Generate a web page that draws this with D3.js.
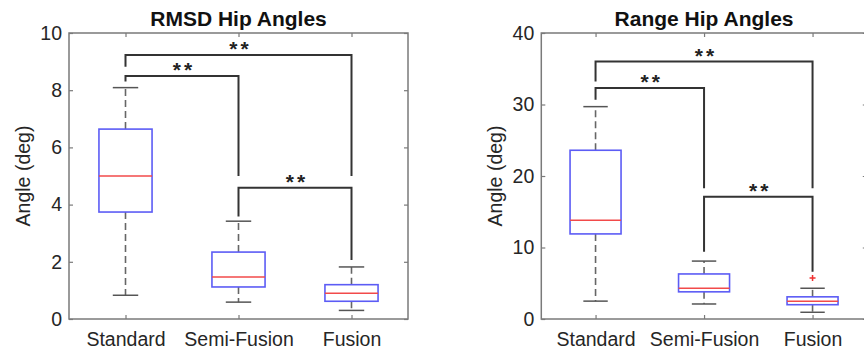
<!DOCTYPE html>
<html>
<head>
<meta charset="utf-8">
<script src="https://cdn.jsdelivr.net/npm/d3@7"></script>
<style>
  body { margin: 0; background: #fff; }
  svg text { font-family: "Liberation Sans", Arial, sans-serif; }
</style>
</head>
<body>
<svg id="chart" width="864" height="354"></svg>
<script>
// categories shared by both panels
const categories = ['Standard', 'Semi-Fusion', 'Fusion'];

// RMSD hip angles (deg)
const rmsdLow = [0.83, 0.59, 0.30];
const rmsdQ1 = [3.74, 1.12, 0.62];
const rmsdMedian = [5.0, 1.47, 0.90];
const rmsdQ3 = [6.64, 2.34, 1.20];
const rmsdHigh = [8.09, 3.42, 1.82];
const rmsdOutliers = [];
const rmsdTicks = [0, 2, 4, 6, 8, 10];
// significance brackets: [from, to, height, left end, right end]
const rmsdBrackets = [
    [0, 1, 8.5, 8.3, 5.0],
    [0, 2, 9.23, 8.82, 5.0],
    [1, 2, 4.59, 3.58, 2.06]
];

// Range hip angles (deg)
const rangeLow = [2.5, 2.1, 0.94];
const rangeQ1 = [11.9, 3.8, 2.0];
const rangeMedian = [13.8, 4.3, 2.5];
const rangeQ3 = [23.6, 6.3, 3.1];
const rangeHigh = [29.7, 8.1, 4.3];
const rangeOutliers = [[2, 5.75]];
const rangeTicks = [0, 10, 20, 30, 40];
const rangeBrackets = [
    [0, 1, 32.3, 30.65, 18.3],
    [0, 2, 36.0, 33.2, 18.3],
    [1, 2, 17.1, 9.4, 6.6]
];

const svg = d3.select('#chart');
const plotTop = 33, plotBottom = 319;

function drawPanel(opts) {
    const g = svg.append('g');

    const x = d3.scaleBand().domain(categories).range([opts.x0, opts.x1]).padding(0);
    const bw = x.bandwidth();
    const cx = i => x(categories[i]) + bw / 2;
    const y = d3.scaleLinear().domain(opts.domain).range([plotBottom, plotTop]);

    // axes box
    g.append('rect')
        .attr('x', opts.x0).attr('y', plotTop)
        .attr('width', opts.x1 - opts.x0).attr('height', plotBottom - plotTop)
        .attr('fill', 'none').attr('stroke', '#7a7a7a').attr('stroke-width', 1.5);

    // ticks pointing inward on all four sides
    const styleAxis = sel => {
        sel.select('.domain').remove();
        sel.selectAll('.tick line').attr('stroke', '#7a7a7a').attr('stroke-width', 1.2);
        sel.selectAll('.tick text').attr('fill', '#262626').style('font-size', '19.5px');
    };
    g.append('g').attr('transform', `translate(${opts.x0},0)`)
        .call(d3.axisLeft(y).tickValues(opts.ticks).tickSize(-4).tickPadding(7))
        .call(styleAxis);
    g.append('g').attr('transform', `translate(${opts.x1},0)`)
        .call(d3.axisRight(y).tickValues(opts.ticks).tickSize(-4).tickFormat(''))
        .call(styleAxis);
    const xc = d3.scalePoint().domain(categories).range([cx(0), cx(2)]);
    g.append('g').attr('transform', `translate(0,${plotBottom})`)
        .call(d3.axisBottom(xc).tickSize(-4).tickPadding(13))
        .call(styleAxis);
    g.append('g').attr('transform', `translate(0,${plotTop})`)
        .call(d3.axisTop(xc).tickSize(-4).tickFormat(''))
        .call(styleAxis);

    // boxes
    const idx = d3.range(categories.length);
    const boxW = bw * 0.47, capW = bw * 0.225;
    const boxes = g.append('g').selectAll('g').data(idx).join('g');

    boxes.append('line')
        .attr('x1', cx).attr('x2', cx)
        .attr('y1', i => y(opts.q3[i])).attr('y2', i => y(opts.high[i]))
        .attr('stroke', '#666').attr('stroke-width', 1.6).attr('stroke-dasharray', '7,4');
    boxes.append('line')
        .attr('x1', cx).attr('x2', cx)
        .attr('y1', i => y(opts.q1[i])).attr('y2', i => y(opts.low[i]))
        .attr('stroke', '#666').attr('stroke-width', 1.6).attr('stroke-dasharray', '7,4');
    boxes.append('line')
        .attr('x1', i => cx(i) - capW / 2).attr('x2', i => cx(i) + capW / 2)
        .attr('y1', i => y(opts.high[i])).attr('y2', i => y(opts.high[i]))
        .attr('stroke', '#555').attr('stroke-width', 1.5);
    boxes.append('line')
        .attr('x1', i => cx(i) - capW / 2).attr('x2', i => cx(i) + capW / 2)
        .attr('y1', i => y(opts.low[i])).attr('y2', i => y(opts.low[i]))
        .attr('stroke', '#555').attr('stroke-width', 1.5);
    boxes.append('rect')
        .attr('x', i => cx(i) - boxW / 2).attr('width', boxW)
        .attr('y', i => y(opts.q3[i])).attr('height', i => y(opts.q1[i]) - y(opts.q3[i]))
        .attr('fill', 'none').attr('stroke', '#5c5cf5').attr('stroke-width', 1.6);
    boxes.append('line')
        .attr('x1', i => cx(i) - boxW / 2).attr('x2', i => cx(i) + boxW / 2)
        .attr('y1', i => y(opts.median[i])).attr('y2', i => y(opts.median[i]))
        .attr('stroke', '#f24a4a').attr('stroke-width', 1.5);

    // outliers
    g.append('g').selectAll('path').data(opts.outliers).join('path')
        .attr('d', d => `M${cx(d[0]) - 3},${y(d[1])}h6M${cx(d[0])},${y(d[1]) - 3}v6`)
        .attr('stroke', '#f03030').attr('stroke-width', 1.5);

    // significance brackets
    const br = g.append('g').selectAll('g').data(opts.brackets).join('g');
    br.append('path')
        .attr('d', d => `M${cx(d[0])},${y(d[3])}V${y(d[2])}H${cx(d[1])}V${y(d[4])}`)
        .attr('fill', 'none').attr('stroke', '#333').attr('stroke-width', 2);
    br.append('text')
        .attr('x', d => (cx(d[0]) + cx(d[1])) / 2 + 2)
        .attr('y', d => y(d[2]) + 1)
        .attr('text-anchor', 'middle')
        .style('font-size', '21px').style('font-weight', 'bold').style('letter-spacing', '3px')
        .attr('fill', '#222')
        .text('**');

    // title and y label
    g.append('text')
        .attr('x', (opts.x0 + opts.x1) / 2).attr('y', 26)
        .attr('text-anchor', 'middle')
        .style('font-size', '21px').style('font-weight', 'bold')
        .attr('fill', '#111')
        .text(opts.title);
    g.append('text')
        .attr('transform', `translate(${opts.labelX},${(plotTop + plotBottom) / 2}) rotate(-90)`)
        .attr('text-anchor', 'middle')
        .style('font-size', '19.5px')
        .attr('fill', '#262626')
        .text('Angle (deg)');
}

drawPanel({
    x0: 69, x1: 408, domain: [0, 10], ticks: rmsdTicks,
    low: rmsdLow, q1: rmsdQ1, median: rmsdMedian, q3: rmsdQ3, high: rmsdHigh,
    outliers: rmsdOutliers, brackets: rmsdBrackets,
    title: 'RMSD Hip Angles', labelX: 30
});
drawPanel({
    x0: 541.3, x1: 866.8, domain: [0, 40], ticks: rangeTicks,
    low: rangeLow, q1: rangeQ1, median: rangeMedian, q3: rangeQ3, high: rangeHigh,
    outliers: rangeOutliers, brackets: rangeBrackets,
    title: 'Range Hip Angles', labelX: 502
});
</script>
</body>
</html>
